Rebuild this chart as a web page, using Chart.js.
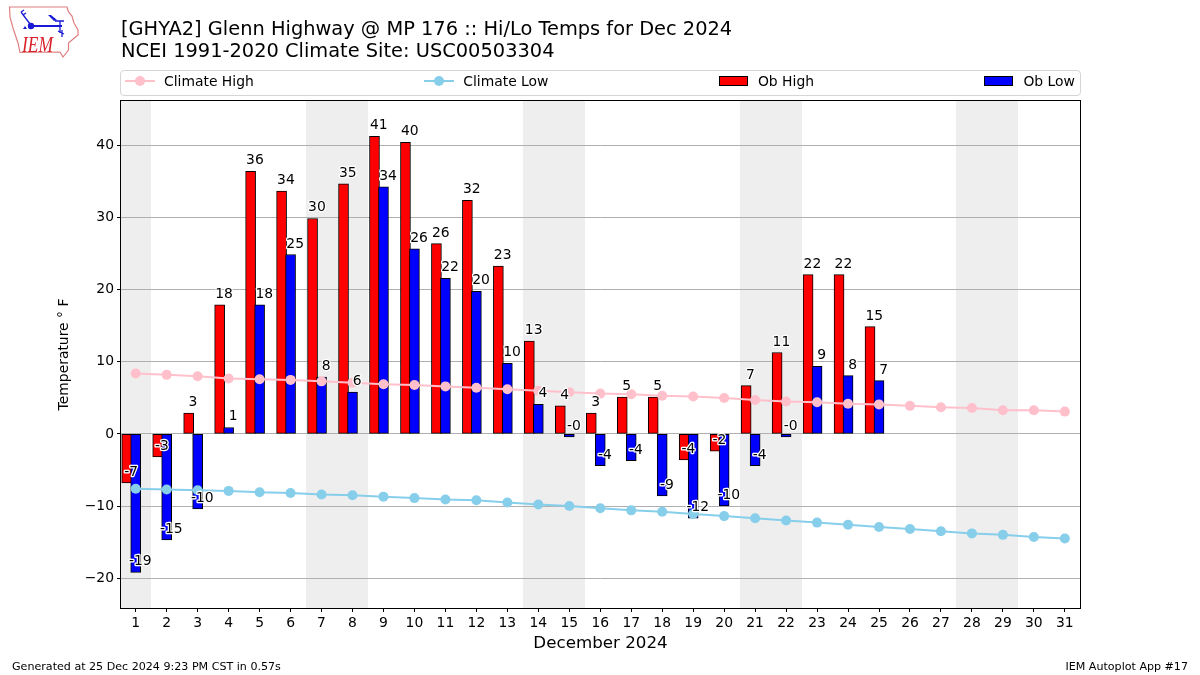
<!DOCTYPE html>
<html>
<head>
<meta charset="utf-8">
<title>GHYA2 Hi/Lo Temps</title>
<script src="https://cdn.jsdelivr.net/npm/chart.js@4"></script>
<style>
    html, body { margin: 0; padding: 0; background: #fff; }
    body { width: 1200px; height: 675px; overflow: hidden; position: relative; font-family: "DejaVu Sans", sans-serif; color: #000; }
    #chartBox { position: absolute; left: 0; top: 0; width: 1200px; height: 675px; }
    #logo { position: absolute; left: 0; top: 0; }
    #legend { position: absolute; left: 120px; top: 70px; width: 950px; height: 19px; padding: 0 5px 5px 4px; border: 1px solid #d5d5d5; border-radius: 4px; display: flex; justify-content: space-between; align-items: center; font-size: 13.9px; }
    .item { display: flex; align-items: center; white-space: nowrap; }
    .swatch { margin-right: 9px; display: block; }
    .foot { position: absolute; top: 660px; font-size: 11.1px; white-space: nowrap; }
</style>
</head>
<body>
<div id="chartBox"><canvas id="tempChart" width="1200" height="675"></canvas></div>

<svg id="logo" width="90" height="65" xmlns="http://www.w3.org/2000/svg">
    <path d="M9.5 7 L67 7 L68.5 12 L72 16 L74 23 L78 30 L78 35 L72 40 L68.5 43 L68.5 50 L63 57 L60 52 L20 52.5 L18 43 L13 28 L10 17 Z" fill="none" stroke="#e07f7f" stroke-width="1.2"/>
    <path d="M21 12 L30 24 M21 12 L24 10 M23 15 L26 13 M31 26 L62 26 M55 21 L64 21 M60 21 L60 33 M62 30 L62 37 M58 31 L64 34" fill="none" stroke="#1a1ad6" stroke-width="1.3"/>
    <path d="M31 26 L62 26" fill="none" stroke="#1a1ad6" stroke-width="2"/>
    <path d="M48 15 L51 15 L57 20 L54 21 Z" fill="#1a1ad6"/>
    <path d="M25 26 L27 29 L23 29 Z" fill="#1a1ad6"/>
    <circle cx="31" cy="26" r="3.2" fill="#1a1ad6"/>
    <text x="22" y="52" font-family="Liberation Serif" font-style="italic" font-size="23" textLength="31" lengthAdjust="spacingAndGlyphs" fill="#d8232a">IEM</text>
</svg>

<div id="legend"></div>
<div class="foot" style="left:12px">Generated at 25 Dec 2024 9:23 PM CST in 0.57s</div>
<div class="foot" style="right:12px">IEM Autoplot App #17</div>

<script>
// Values
const days = [1,2,3,4,5,6,7,8,9,10,11,12,13,14,15,16,17,18,19,20,21,22,23,24,25,26,27,28,29,30,31];
const obHigh = [-6.8,-3.2,2.9,17.9,36.45,33.7,29.9,34.7,41.3,40.45,26.4,32.4,23.3,12.9,3.9,2.9,5.1,5.1,-3.6,-2.4,6.7,11.3,22.1,22.1,14.9];
const obLow = [-19.2,-14.7,-10.4,0.9,17.9,24.9,7.9,5.8,34.3,25.7,21.6,19.8,9.8,4.1,-0.4,-4.4,-3.7,-8.6,-11.7,-10.0,-4.4,-0.4,9.4,8.1,7.4];
const climateHigh = [8.4,8.2,8.0,7.7,7.6,7.5,7.3,7.1,6.9,6.8,6.6,6.4,6.2,6.0,5.8,5.6,5.5,5.3,5.2,5.0,4.7,4.5,4.4,4.2,4.1,3.9,3.7,3.6,3.3,3.3,3.1];
const climateLow = [-7.6,-7.7,-7.8,-7.9,-8.1,-8.2,-8.4,-8.5,-8.7,-8.9,-9.1,-9.2,-9.5,-9.8,-10.0,-10.3,-10.6,-10.8,-11.1,-11.4,-11.7,-12.0,-12.3,-12.6,-12.9,-13.2,-13.5,-13.8,-14.0,-14.3,-14.5];
const weekendDays = [1,7,8,14,15,21,22,28,29];
const yTicks = [-20,-10,0,10,20,30,40];

const FONT = '"DejaVu Sans", sans-serif';
const PINK = '#ffc0cb';
const SKY = '#87ceeb';

function toPoints(values, shift) {
    return values.map((v, i) => ({ x: days[i] + shift, y: v }));
}

// Grey weekend bands, under the grid
const bandsPlugin = {
    id: 'bands',
    beforeDraw(chart) {
        const { ctx, chartArea, scales } = chart;
        ctx.save();
        ctx.fillStyle = '#eeeeee';
        weekendDays.forEach(d => {
            // rounded so two neighbouring days leave no seam
            const left = Math.round(Math.max(scales.x.getPixelForValue(d - 0.5), chartArea.left));
            const right = Math.round(scales.x.getPixelForValue(d + 0.5));
            ctx.fillRect(left, chartArea.top, right - left, chartArea.height);
        });
        ctx.restore();
    }
};

// Value labels with a white halo, plus the frame round the plot
const labelsPlugin = {
    id: 'valueLabels',
    afterDraw(chart) {
        const { ctx, chartArea, scales } = chart;
        ctx.save();
        ctx.strokeStyle = '#000';
        ctx.lineWidth = 1;
        ctx.strokeRect(chartArea.left - 0.5, chartArea.top - 0.5, chartArea.width + 1, chartArea.height + 1);
        ctx.font = '13.9px ' + FONT;
        ctx.textAlign = 'center';
        ctx.textBaseline = 'alphabetic';
        ctx.lineJoin = 'round';
        const put = (v, i, shift) => {
            const txt = v.toFixed(0);
            const x = scales.x.getPixelForValue(days[i] + shift);
            const y = scales.y.getPixelForValue(v) - 7;
            ctx.strokeStyle = '#fff';
            ctx.lineWidth = 2.5;
            ctx.strokeText(txt, x, y);
            ctx.fillStyle = '#000';
            ctx.fillText(txt, x, y);
        };
        obHigh.forEach((v, i) => put(v, i, -0.15));
        obLow.forEach((v, i) => put(v, i, 0.15));
        ctx.restore();
    }
};

new Chart(document.getElementById('tempChart'), {
    type: 'bar',
    data: {
        datasets: [
            { type: 'line', label: 'Climate High', data: toPoints(climateHigh, 0), borderColor: PINK, backgroundColor: PINK, borderWidth: 2, pointRadius: 5, pointBorderWidth: 0, order: 0 },
            { type: 'line', label: 'Climate Low', data: toPoints(climateLow, 0), borderColor: SKY, backgroundColor: SKY, borderWidth: 2, pointRadius: 5, pointBorderWidth: 0, order: 0 },
            { label: 'Ob High', data: toPoints(obHigh, -0.29), backgroundColor: '#ff0000', borderColor: '#000', borderWidth: 1, borderSkipped: false, barThickness: 10, grouped: false, order: 2 },
            { label: 'Ob Low', data: toPoints(obLow, 0), backgroundColor: '#0000ff', borderColor: '#000', borderWidth: 1, borderSkipped: false, barThickness: 10, grouped: false, order: 1 }
        ]
    },
    plugins: [bandsPlugin, labelsPlugin],
    options: {
        responsive: false,
        animation: false,
        layout: { padding: { left: 56, right: 120, top: 12, bottom: 21 } },
        plugins: {
            legend: { display: false },
            tooltip: { enabled: false },
            title: {
                display: true,
                fullSize: false,
                align: 'start',
                text: ['[GHYA2] Glenn Highway @ MP 176 :: Hi/Lo Temps for Dec 2024', 'NCEI 1991-2020 Climate Site: USC00503304'],
                color: '#000',
                font: { family: FONT, size: 19.4, weight: 'normal', lineHeight: 1.134 },
                padding: { top: 7, bottom: 38 }
            }
        },
        scales: {
            x: {
                type: 'linear',
                offset: false,
                min: 0.525,
                max: 31.49,
                afterFit: s => { s.height = 46; },
                grid: { offset: false, drawOnChartArea: false, drawTicks: true, tickColor: '#000', tickLength: 4 },
                border: { display: false },
                ticks: { stepSize: 1, includeBounds: false, autoSkip: false, maxRotation: 0, maxTicksLimit: 40, color: '#000', padding: 3, font: { family: FONT, size: 13.9 }, callback: v => String(v) },
                title: { display: true, text: 'December 2024', color: '#000', font: { family: FONT, size: 16.7 }, padding: 0 }
            },
            y: {
                min: -24.15,
                max: 46.2,
                afterFit: s => { s.width = 65; },
                afterBuildTicks: s => { s.ticks = yTicks.map(v => ({ value: v })); },
                grid: { color: '#b0b0b0', lineWidth: 1, drawTicks: true, tickColor: '#000', tickLength: 4 },
                border: { display: false },
                ticks: { color: '#000', padding: 3, font: { family: FONT, size: 13.9 }, callback: v => v < 0 ? '\u2212' + Math.abs(v) : String(v) },
                title: { display: true, text: 'Temperature \u00b0 F', color: '#000', font: { family: FONT, size: 13.9 }, padding: 0 }
            }
        }
    }
});

// Legend row spread across the plot width
function buildLegend() {
    const entries = [
        { label: 'Climate High', color: PINK, kind: 'line' },
        { label: 'Climate Low', color: SKY, kind: 'line' },
        { label: 'Ob High', color: '#ff0000', kind: 'box' },
        { label: 'Ob Low', color: '#0000ff', kind: 'box' }
    ];
    const legend = document.getElementById('legend');
    entries.forEach(e => {
        const item = document.createElement('div');
        item.className = 'item';
        const swatch = e.kind === 'line'
            ? `<svg class="swatch" width="30" height="12"><line x1="0" y1="6" x2="30" y2="6" stroke="${e.color}" stroke-width="2"/><circle cx="15" cy="6" r="5" fill="${e.color}"/></svg>`
            : `<svg class="swatch" width="30" height="12"><rect x="0.5" y="1.5" width="28" height="9" fill="${e.color}" stroke="#000"/></svg>`;
        item.innerHTML = swatch + `<span>${e.label}</span>`;
        legend.appendChild(item);
    });
}
buildLegend();
</script>
</body>
</html>
